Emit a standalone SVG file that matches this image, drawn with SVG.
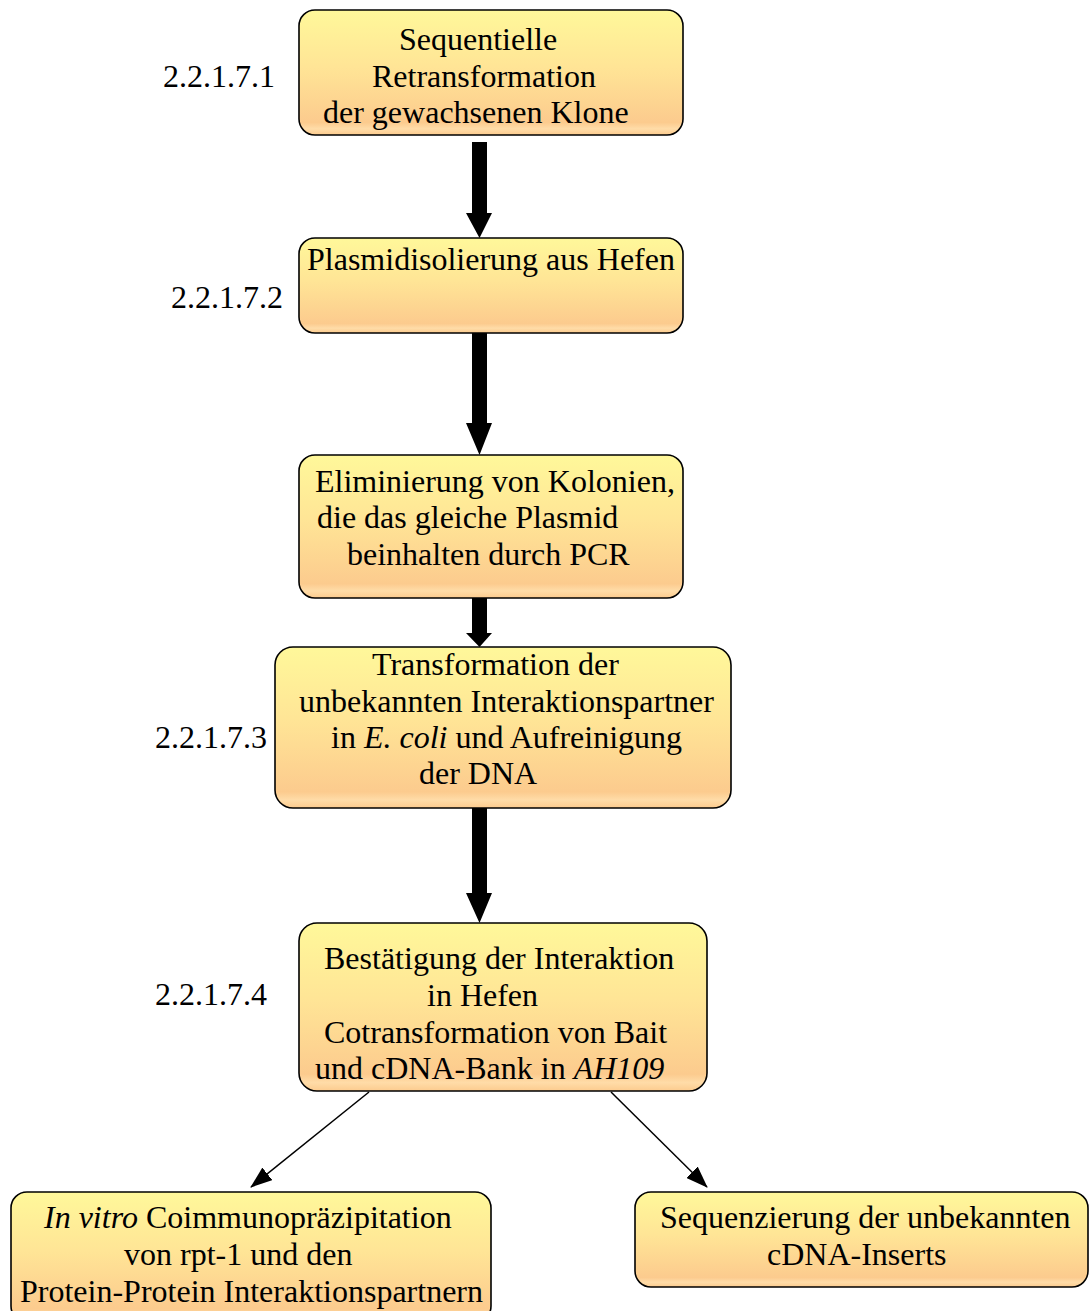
<svg xmlns="http://www.w3.org/2000/svg" width="1089" height="1311" viewBox="0 0 1089 1311">
<style>
  .box { fill: url(#g); stroke: #000; stroke-width: 1.6; }
  text { font-family: "Liberation Serif", "Times New Roman", serif; font-size: 32px; fill: #000; }
  .it { font-style: italic; }
  .thick { fill: #000; stroke: none; }
  .thin { stroke: #000; stroke-width: 1.5; fill: none; marker-end: url(#ah); }
</style>
<defs>
  <linearGradient id="g" x1="0" y1="0" x2="0" y2="1">
    <stop offset="0" stop-color="#FFF89A"/>
    <stop offset="0.45" stop-color="#FFE596"/>
    <stop offset="0.9" stop-color="#FCCB8E"/>
    <stop offset="0.95" stop-color="#FFDCA8"/>
    <stop offset="1" stop-color="#FCCB8E"/>
  </linearGradient>
  <marker id="ah" markerWidth="22" markerHeight="16" refX="21" refY="8" orient="auto" markerUnits="userSpaceOnUse">
    <path d="M0,0 L22,8 L0,16 Z" fill="#000"/>
  </marker>
</defs>

<g id="connectors">
  <polygon class="thick" points="472,142 487,142 487,213 492,213 479.5,238 466,213 472,213"/>
  <polygon class="thick" points="472,333 487,333 487,423 492,423 479.5,455 466,423 472,423"/>
  <polygon class="thick" points="472,598 487,598 487,633 492,633 479.5,647 466,633 472,633"/>
  <polygon class="thick" points="472,808 487,808 487,893 492,893 479.5,923 466,893 472,893"/>
  <line class="thin" x1="369" y1="1092" x2="251" y2="1187"/>
  <line class="thin" x1="611" y1="1092" x2="707" y2="1187"/>
</g>

<g id="labels">
  <text x="163" y="87">2.2.1.7.1</text>
  <text x="171" y="308">2.2.1.7.2</text>
  <text x="155" y="748">2.2.1.7.3</text>
  <text x="155" y="1005">2.2.1.7.4</text>
</g>

<g id="n1">
  <rect class="box" x="299" y="10" width="384" height="125" rx="16"/>
  <text x="399" y="50">Sequentielle</text>
  <text x="372" y="87">Retransformation</text>
  <text x="323" y="123">der gewachsenen Klone</text>
</g>

<g id="n2">
  <rect class="box" x="299" y="238" width="384" height="95" rx="16"/>
  <text x="307" y="270">Plasmidisolierung aus Hefen</text>
</g>

<g id="n3">
  <rect class="box" x="299" y="455" width="384" height="143" rx="16"/>
  <text x="315" y="492">Eliminierung von Kolonien,</text>
  <text x="317" y="528">die das gleiche Plasmid</text>
  <text x="347" y="565">beinhalten durch PCR</text>
</g>

<g id="n4">
  <rect class="box" x="275" y="647" width="456" height="161" rx="18"/>
  <text x="372" y="675">Transformation der</text>
  <text x="299" y="712">unbekannten Interaktionspartner</text>
  <text x="331" y="748">in <tspan class="it">E. coli</tspan> und Aufreinigung</text>
  <text x="419" y="784">der DNA</text>
</g>

<g id="n5">
  <rect class="box" x="299" y="923" width="408" height="168" rx="18"/>
  <text x="324" y="969">Bestätigung der Interaktion</text>
  <text x="427" y="1006">in Hefen</text>
  <text x="324" y="1043">Cotransformation von Bait</text>
  <text x="315" y="1079">und cDNA-Bank in <tspan class="it">AH109</tspan></text>
</g>

<g id="n6">
  <rect class="box" x="11" y="1192" width="480" height="130" rx="16"/>
  <text x="44" y="1228"><tspan class="it">In vitro</tspan> Coimmunopräzipitation</text>
  <text x="124" y="1265">von rpt-1 und den</text>
  <text x="20" y="1302">Protein-Protein Interaktionspartnern</text>
</g>

<g id="n7">
  <rect class="box" x="635" y="1192" width="453" height="95" rx="16"/>
  <text x="660" y="1228">Sequenzierung der unbekannten</text>
  <text x="767" y="1265">cDNA-Inserts</text>
</g>
</svg>
